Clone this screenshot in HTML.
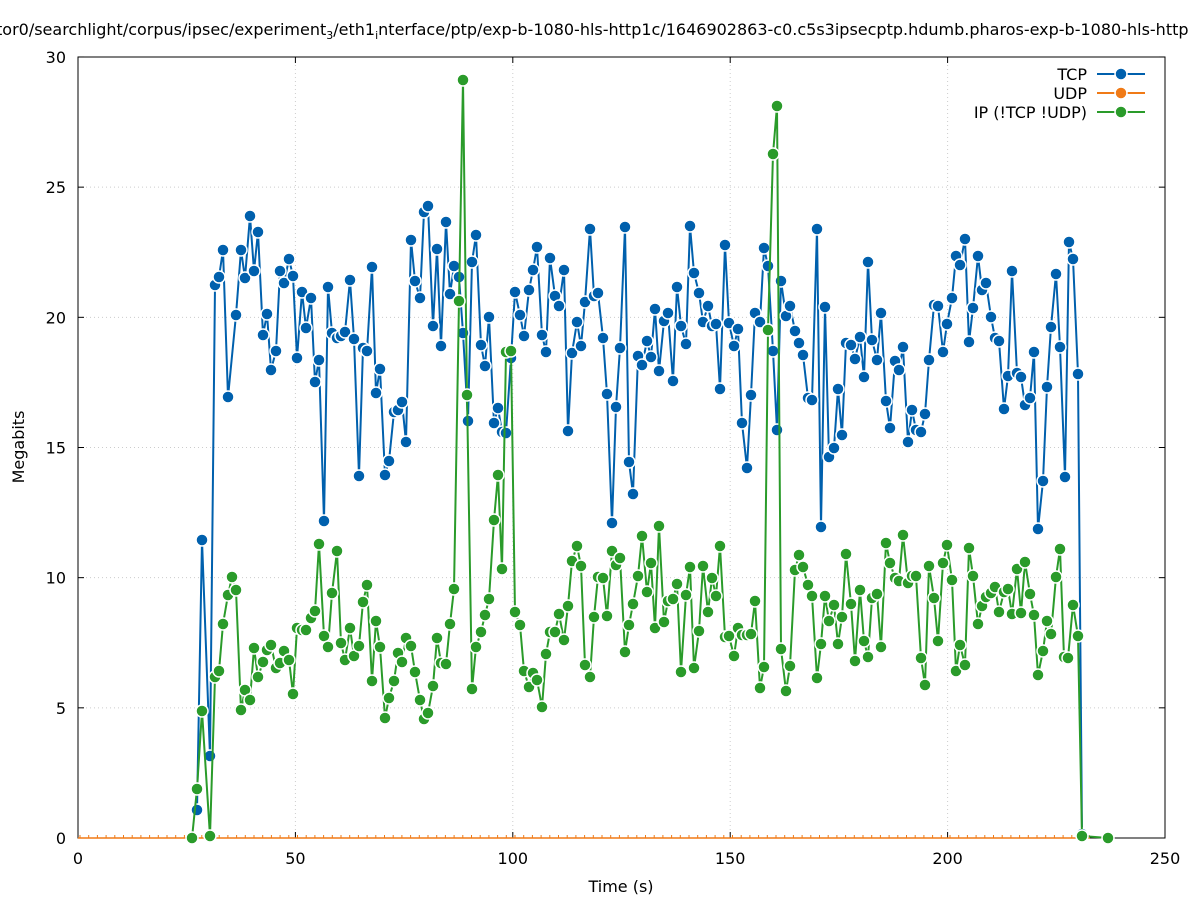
<!DOCTYPE html>
<html><head><meta charset="utf-8"><style>body{margin:0;background:#fff}svg{display:block;font-family:"DejaVu Sans","Liberation Sans",sans-serif}</style></head>
<body>
<svg id="s" width="1197" height="900" xmlns="http://www.w3.org/2000/svg">
<rect width="1197" height="900" fill="#fff"/>
<g id="grid" stroke="#ccc" stroke-dasharray="1,3" stroke-width="1"></g>
<rect x="78" y="57" width="1087" height="781" fill="none" stroke="#000" stroke-width="1"/>
<g id="ticks" font-size="16" fill="#000"></g>
<text x="-4" y="35" font-size="16" fill="#000">tor0/searchlight/corpus/ipsec/experiment<tspan font-size="11" dy="4">3</tspan><tspan dy="-4">/eth1</tspan><tspan font-size="11" dy="4">i</tspan><tspan dy="-4">nterface/ptp/exp-b-1080-hls-http1c/1646902863-c0.c5s3ipsecptp.hdumb.pharos-exp-b-1080-hls-http</tspan></text>
<text x="621" y="892" font-size="16" text-anchor="middle">Time (s)</text>
<text x="24" y="447" font-size="16" text-anchor="middle" transform="rotate(-90 24 447)">Megabits</text>
<g id="data"></g>
<g font-size="16" text-anchor="end">
<text x="1087" y="80">TCP</text><text x="1087" y="99">UDP</text><text x="1087" y="118">IP (!TCP  !UDP)</text>
<line x1="1097" y1="74" x2="1145" y2="74" stroke="#0060ad" stroke-width="2"/><circle cx="1121" cy="74" r="6" fill="#0060ad" stroke="#fff" stroke-width="1.5"/>
<line x1="1097" y1="93" x2="1145" y2="93" stroke="#f07a16" stroke-width="2"/><circle cx="1121" cy="93" r="6" fill="#f07a16" stroke="#fff" stroke-width="1.5"/>
<line x1="1097" y1="112" x2="1145" y2="112" stroke="#2a9b2a" stroke-width="2"/><circle cx="1121" cy="112" r="6" fill="#2a9b2a" stroke="#fff" stroke-width="1.5"/>
</g>
</svg>
<script>
const NS="http://www.w3.org/2000/svg";
function el(p,t,a,txt){const e=document.createElementNS(NS,t);for(const k in a)e.setAttribute(k,a[k]);if(txt!=null)e.textContent=txt;p.appendChild(e);return e;}
const g=document.getElementById('grid'),tk=document.getElementById('ticks');
for(let i=0;i<=5;i++){const x=78+i*217.4;if(i>0&&i<5)el(g,'line',{x1:x,y1:57,x2:x,y2:838});
el(tk,'line',{x1:x,y1:838,x2:x,y2:832,stroke:'#000'});el(tk,'line',{x1:x,y1:57,x2:x,y2:63,stroke:'#000'});
el(tk,'text',{x:x,y:864,'text-anchor':'middle'},String(i*50));}
for(let i=0;i<=6;i++){const y=838-i*130.17;if(i>0&&i<6)el(g,'line',{x1:78,y1:y,x2:1165,y2:y});
el(tk,'line',{x1:78,y1:y,x2:84,y2:y,stroke:'#000'});el(tk,'line',{x1:1165,y1:y,x2:1159,y2:y,stroke:'#000'});
el(tk,'text',{x:66,y:y+6,'text-anchor':'end'},String(i*5));}
const tcp=[197,810,202,540,210,756,215,285,219,277,223,250,228,397,236,315,241,250,245,278,250,216,254,271,258,232,263,335,267,314,271,370,276,351,280,271,284,283,289,259,293,276,297,358,302,292,306,328,311,298,315,382,319,360,324,521,328,287,332,333,337,338,341,336,345,332,350,280,354,339,359,476,363,348,367,351,372,267,376,393,380,369,385,475,389,461,394,412,398,410,402,402,406,442,411,240,415,281,420,298,424,212,428,206,433,326,437,249,441,346,446,222,450,294,454,266,459,277,463,333,468,421,472,262,476,235,481,345,485,366,489,317,494,423,498,408,502,432,506,433,511,358,515,292,520,315,524,336,529,290,533,270,537,247,542,335,546,352,550,258,555,296,559,306,564,270,568,431,572,353,577,322,581,346,585,302,590,229,594,296,598,293,603,338,607,394,612,523,616,407,620,348,625,227,629,462,633,494,638,356,642,365,647,341,651,357,655,309,659,371,664,321,668,313,673,381,677,287,681,326,686,344,690,226,694,273,699,293,703,322,708,306,712,326,716,324,720,389,725,245,729,323,734,346,738,329,742,423,747,468,751,395,755,313,760,322,764,248,768,266,773,351,777,430,781,281,786,316,790,306,795,331,799,343,803,355,808,398,812,400,817,229,821,527,825,307,829,457,834,448,838,389,842,435,846,343,851,345,855,359,860,337,864,377,868,262,872,340,877,360,881,313,886,401,890,428,895,361,899,370,903,347,908,442,912,410,916,430,921,432,925,414,929,360,934,305,938,306,943,352,947,324,952,298,956,256,960,265,965,239,969,342,973,308,978,256,982,290,986,283,991,317,995,338,999,341,1004,409,1008,376,1012,271,1017,373,1021,377,1025,405,1030,398,1034,352,1038,529,1043,481,1047,387,1051,327,1056,274,1060,347,1065,477,1069,242,1073,259,1078,374,1082,834];
const ip=[192,838,197,789,202,711,210,836,215,677,219,671,223,624,228,595,232,577,236,590,241,710,245,690,250,700,254,648,258,677,263,662,267,650,271,645,276,668,280,663,284,651,289,660,293,694,297,628,302,630,306,630,311,618,315,611,319,544,324,636,328,647,332,593,337,551,341,643,345,660,350,628,354,656,359,646,363,602,367,585,372,681,376,621,380,647,385,718,389,698,394,681,398,653,402,662,406,638,411,646,415,672,420,700,424,719,428,713,433,686,437,638,441,663,446,664,450,624,454,589,459,301,463,80,467,395,472,689,476,647,481,632,485,615,489,599,494,520,498,475,502,569,506,352,511,351,515,612,520,625,524,671,529,687,533,673,537,680,542,707,546,654,550,632,555,632,559,614,564,640,568,606,572,561,577,546,581,566,585,665,590,677,594,617,598,577,603,578,607,616,612,551,616,565,620,558,625,652,629,625,633,604,638,576,642,536,647,592,651,563,655,628,659,526,664,622,668,601,673,599,677,584,681,672,686,595,690,567,694,668,699,631,703,566,708,612,712,578,716,596,720,546,725,637,729,636,734,656,738,628,742,635,747,635,751,634,755,601,760,688,764,667,768,330,773,154,777,106,781,649,786,691,790,666,795,570,799,555,803,567,808,585,812,596,817,678,821,644,825,596,829,621,834,605,838,644,842,617,846,554,851,604,855,661,860,590,864,641,868,657,872,598,877,594,881,647,886,543,890,563,895,578,899,581,903,535,908,583,912,576,916,576,921,658,925,685,929,566,934,598,938,641,943,563,947,545,952,580,956,671,960,645,965,665,969,548,973,576,978,624,982,606,986,597,991,593,995,587,999,612,1004,592,1008,589,1012,614,1017,569,1021,613,1025,562,1030,594,1034,615,1038,675,1043,651,1047,621,1051,634,1056,577,1060,549,1064,657,1068,658,1073,605,1078,636,1082,836,1108,838];
const d=document.getElementById('data');
el(d,'line',{x1:78,y1:838,x2:1090,y2:838,stroke:'#f07a16','stroke-width':1.5});
for(let x=80;x<1090;x+=8.7)el(d,'line',{x1:x,y1:835,x2:x,y2:838,stroke:'#f07a16','stroke-width':1});
function series(a,c){let p='';for(let i=0;i<a.length;i+=2)p+=(i?'L':'M')+a[i]+','+a[i+1];
el(d,'path',{d:p,fill:'none',stroke:c,'stroke-width':2});
for(let i=0;i<a.length;i+=2)el(d,'circle',{cx:a[i],cy:a[i+1],r:6,fill:c,stroke:'#fff','stroke-width':1.5});}
series(tcp,'#0060ad');series(ip,'#2a9b2a');
</script>
</body></html>
